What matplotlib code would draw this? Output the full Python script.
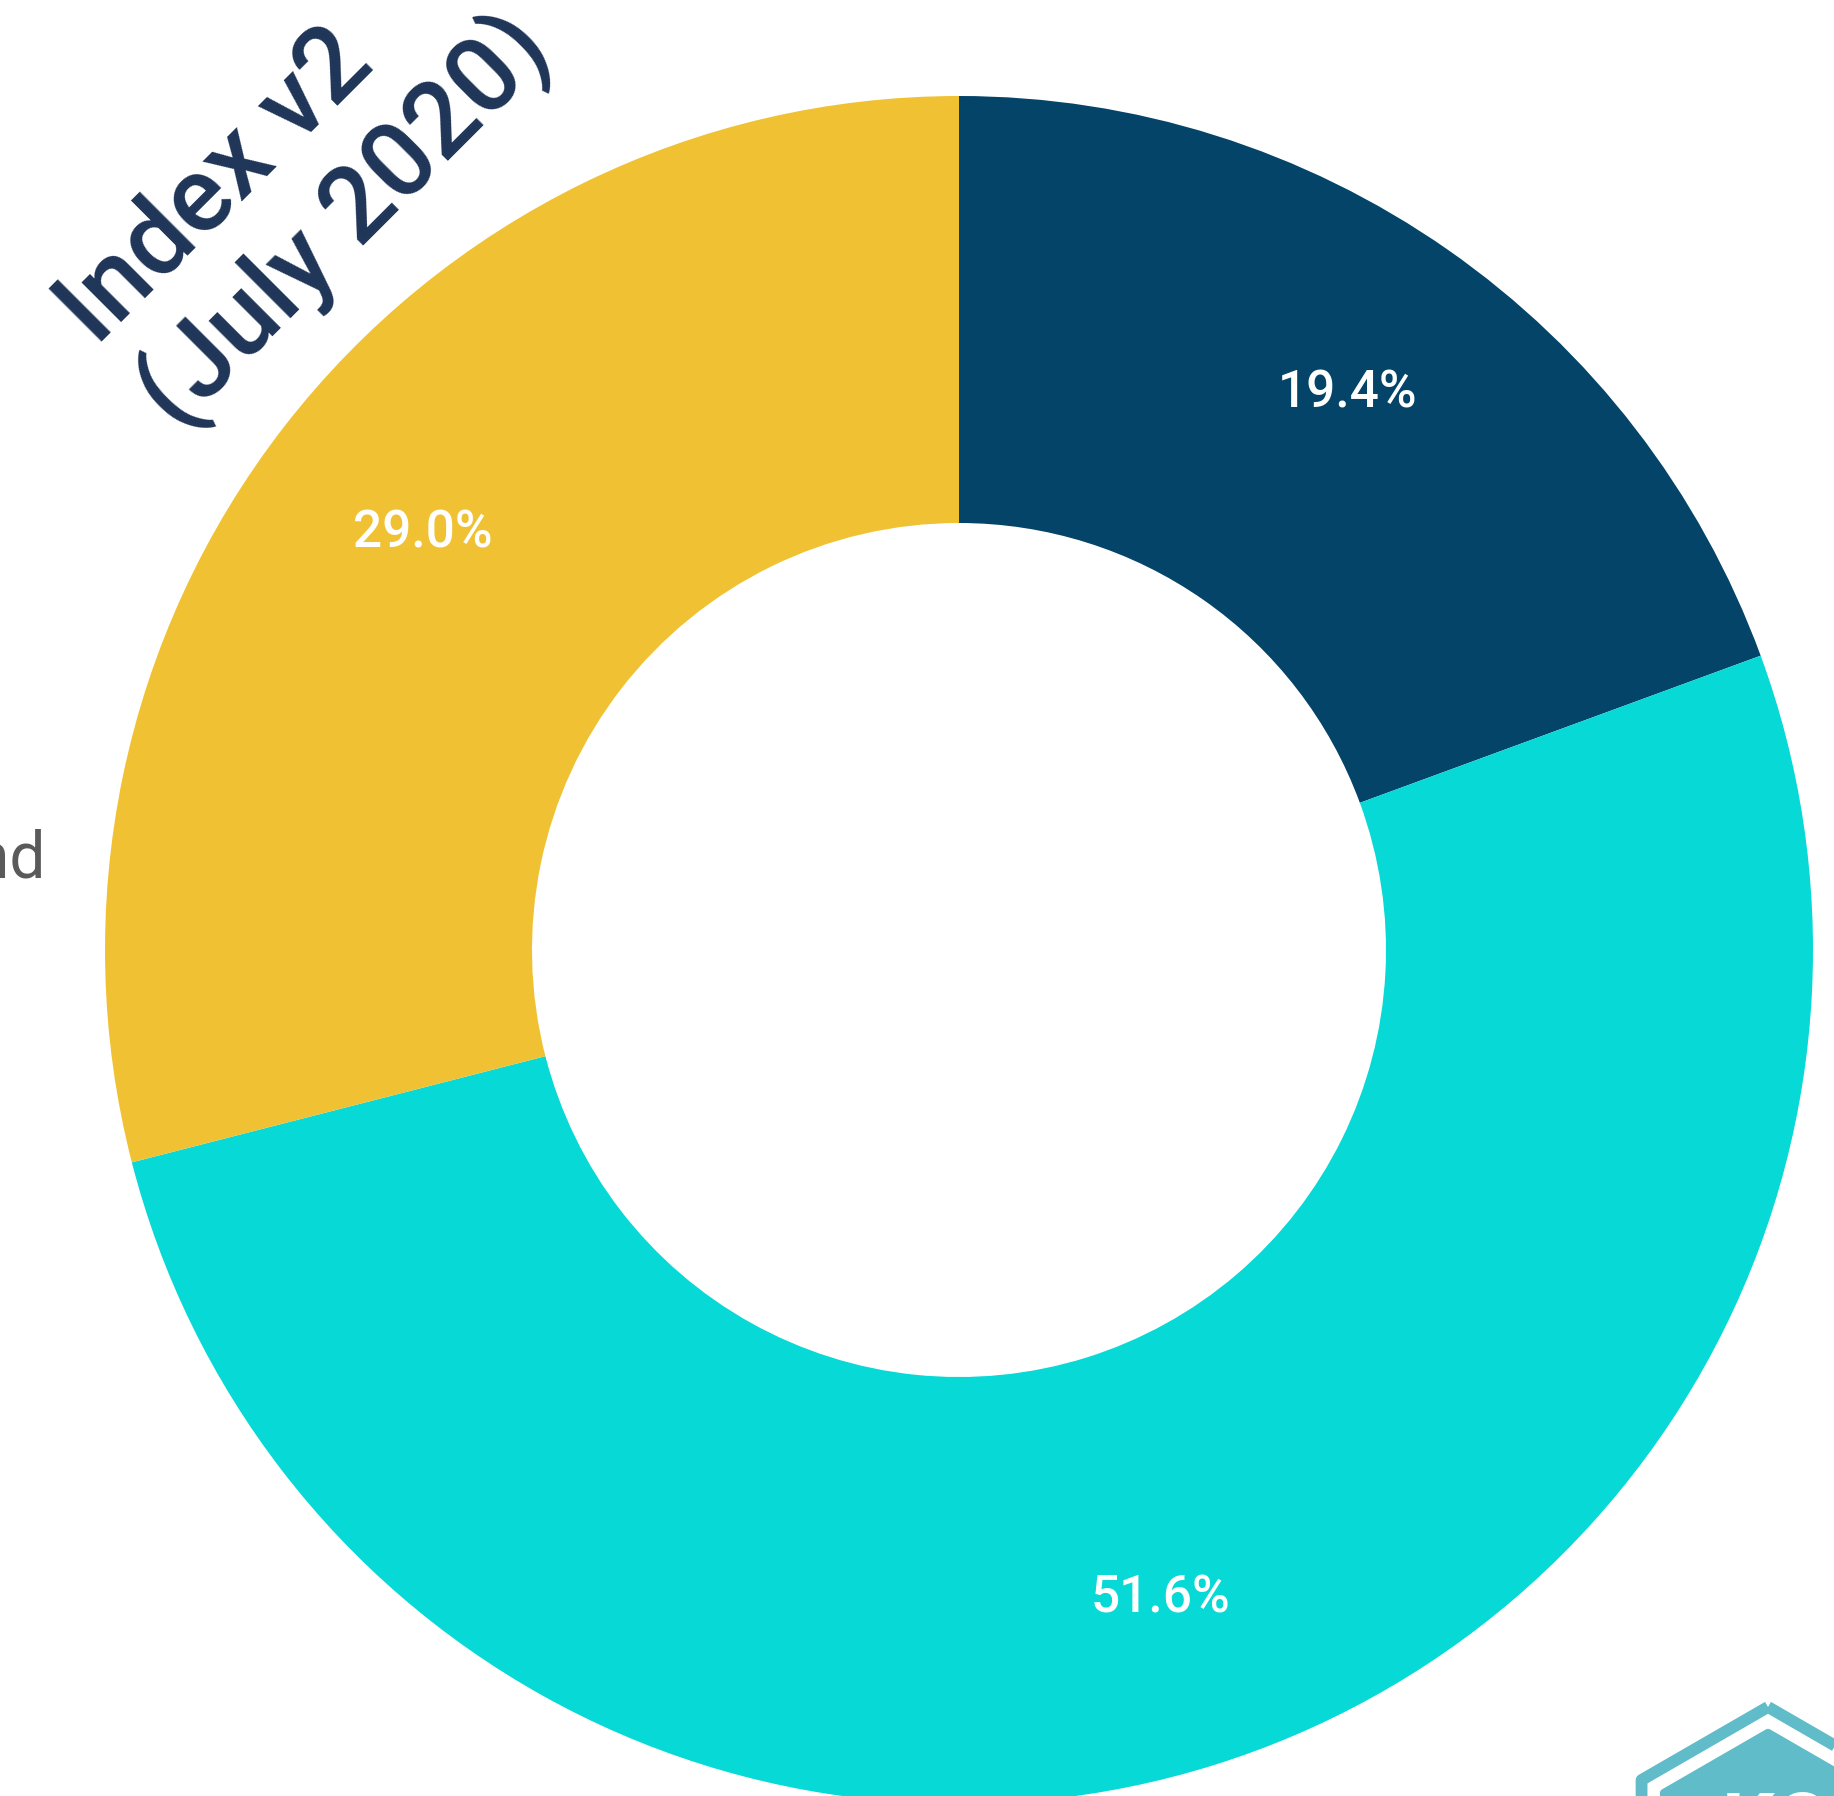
import numpy as np
import matplotlib
matplotlib.use("Agg")
import matplotlib.pyplot as plt
from matplotlib.patches import RegularPolygon

# Share of each segment (percent), drawn clockwise from 12 o'clock
segments = ["Segment A", "Segment B", "Segment C"]
shares = [19.4, 51.6, 29.0]
colors = ["#044468", "#06d9d6", "#f0c233"]

title_lines = ["Index v2", "(July 2020)"]
legend_tail = "Brand"

W, H = 1834, 1796
fig = plt.figure(figsize=(W / 100, H / 100), dpi=100)
ax = fig.add_axes([0, 0, 1, 1])

cx, cy = 959, H - 950
R = 854

wedges, texts, autotexts = ax.pie(
    shares,
    colors=colors,
    startangle=90,
    counterclock=False,
    center=(cx, cy),
    radius=R,
    wedgeprops=dict(width=R * 0.5, linewidth=0),
    autopct="%1.1f%%",
    pctdistance=0.795,
    textprops=dict(color="white", fontsize=37, fontweight="medium", family="Roboto"),
)

ax.set_xlim(0, W)
ax.set_ylim(0, H)
ax.set_aspect("equal")
ax.axis("off")

# Rotated two-line title in the upper-left corner, left aligned along a 45° baseline
angle = 45
along = np.array([np.cos(np.radians(angle)), np.sin(np.radians(angle))])
down = np.array([along[1], -along[0]])
origin = np.array([96.0, H - 347.0])
line_gap = 118
for i, line in enumerate(title_lines):
    pos = origin + down * line_gap * i - along * 3 * i
    ax.text(pos[0], pos[1], line, rotation=angle, rotation_mode="anchor",
            ha="left", va="baseline", fontsize=76, fontweight="medium",
            color="#1f3558", family="Roboto")

# Legend label cut off at the left edge
ax.text(46, H - 859, legend_tail, ha="right", va="center", fontsize=46,
        color="#5a5a5a", family="Roboto")

# Logo badge in the lower-right corner
lx, ly = 1768, H - 1853
ax.add_patch(RegularPolygon((lx, ly), numVertices=6, radius=146, orientation=0,
                            facecolor="none", edgecolor="#5fbcc8", linewidth=8.5,
                            joinstyle="round"))
ax.add_patch(RegularPolygon((lx, ly), numVertices=6, radius=120, orientation=0,
                            facecolor="#5fbcc8", edgecolor="#5fbcc8", linewidth=6,
                            joinstyle="round"))
ax.text(1722, H - 1790, "KO", ha="left", va="top", fontsize=60, fontweight="bold",
        color="white", family="Roboto")

fig.savefig("out.png", dpi=100)
